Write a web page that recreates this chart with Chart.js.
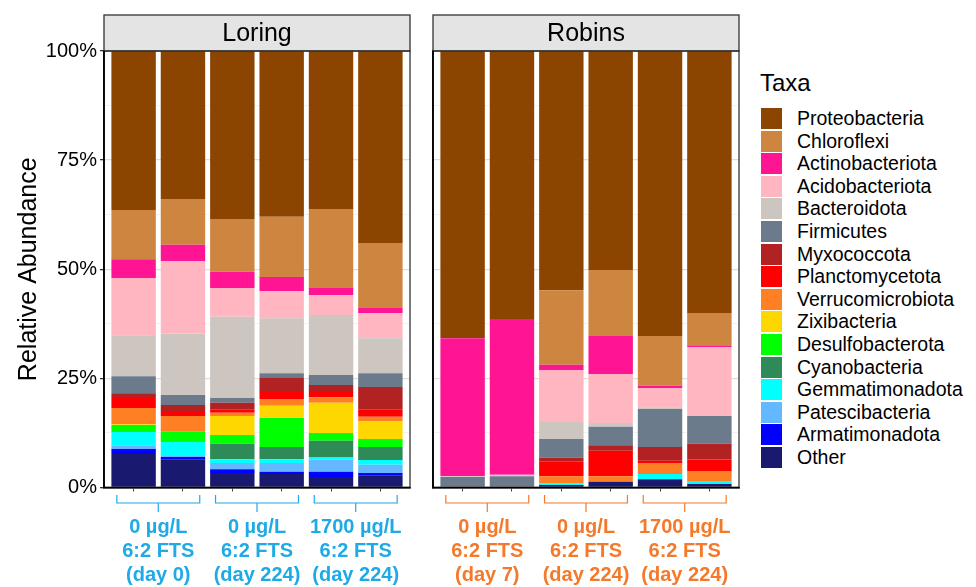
<!DOCTYPE html>
<html>
<head>
<meta charset="utf-8">
<script src="https://cdn.jsdelivr.net/npm/chart.js@4.4.1/dist/chart.umd.min.js"></script>
<style>
  body { margin: 0; background: #fff; font-family: 'Liberation Sans', Arial, sans-serif; }
  #wrap { position: relative; width: 976px; height: 587px; overflow: hidden; }
  canvas { position: absolute; top: 0; }
  #legend { position: absolute; left: 760px; top: 0; }
  .legTitle { position: absolute; left: 0; top: 71px; font-size: 24px; line-height: 24px; white-space: nowrap; }
  .legRow { position: absolute; left: 1px; height: 21px; display: flex; align-items: center; white-space: nowrap; }
  .legKey { width: 21px; height: 21px; margin-right: 15px; }
  .legText { font-size: 19.5px; color: #000; }
</style>
</head>
<body>
<div id="wrap">
  <canvas id="loring" width="420" height="587" style="left:0px"></canvas>
  <canvas id="robins" width="326" height="587" style="left:423px"></canvas>
  <div id="legend"></div>
</div>
<script>
// Taxa, top of the stack first (legend order)
const taxa = ['Proteobacteria', 'Chloroflexi', 'Actinobacteriota', 'Acidobacteriota', 'Bacteroidota',
  'Firmicutes', 'Myxococcota', 'Planctomycetota', 'Verrucomicrobiota', 'Zixibacteria',
  'Desulfobacterota', 'Cyanobacteria', 'Gemmatimonadota', 'Patescibacteria', 'Armatimonadota', 'Other'];
const taxaColors = ['#8B4500', '#CD853F', '#FF1493', '#FFB6C1', '#CDC5BF',
  '#6C7B8B', '#B22222', '#FF0000', '#FF7F24', '#FFD700',
  '#00FF00', '#2E8B57', '#00FFFF', '#63B8FF', '#0000FF', '#191970'];

// Relative abundance (%) per taxon, six samples per site
const loringProteobacteria    = [36.4, 33.9, 38.5, 38.0, 36.2, 44.0];
const loringChloroflexi       = [11.3, 10.5, 12.1, 13.8, 18.1, 14.9];
const loringActinobacteriota  = [4.3, 3.7, 3.7, 3.2, 1.6, 1.1];
const loringAcidobacteriota   = [13.1, 16.6, 6.6, 6.2, 4.6, 5.8];
const loringBacteroidota      = [9.4, 14.1, 18.6, 12.6, 13.7, 8.0];
const loringFirmicutes        = [3.9, 2.3, 1.1, 1.1, 2.3, 3.2];
const loringMyxococcota       = [1.1, 1.4, 1.5, 3.0, 1.6, 5.2];
const loringPlanctomycetota   = [2.3, 1.1, 0.8, 1.8, 1.2, 1.6];
const loringVerrucomicrobiota = [3.7, 3.6, 0.7, 1.6, 1.3, 1.0];
const loringZixibacteria      = [0.2, 0.0, 4.4, 2.8, 6.9, 4.1];
const loringDesulfobacterota  = [1.6, 2.4, 2.0, 6.6, 1.8, 1.8];
const loringCyanobacteria     = [0.0, 0.0, 3.5, 2.8, 3.7, 3.0];
const loringGemmatimonadota   = [3.0, 3.2, 0.9, 0.9, 0.6, 1.1];
const loringPatescibacteria   = [0.9, 0.2, 1.4, 2.0, 2.8, 1.9];
const loringArmatimonadota    = [1.1, 0.5, 0.9, 0.5, 1.2, 0.6];
const loringOther             = [7.7, 6.5, 3.3, 3.1, 2.4, 2.7];

const robinsProteobacteria    = [65.8, 61.4, 54.8, 50.2, 65.3, 60.0];
const robinsChloroflexi       = [0.0, 0.0, 17.1, 15.1, 11.4, 7.6];
const robinsActinobacteriota  = [31.6, 35.7, 1.2, 8.7, 0.5, 0.2];
const robinsAcidobacteriota   = [0.0, 0.3, 11.9, 11.2, 4.4, 15.8];
const robinsBacteroidota      = [0.2, 0.0, 3.9, 0.9, 0.4, 0.0];
const robinsFirmicutes        = [2.4, 2.6, 4.3, 4.2, 8.7, 6.4];
const robinsMyxococcota       = [0.0, 0.0, 0.9, 1.3, 3.2, 3.6];
const robinsPlanctomycetota   = [0.0, 0.0, 3.3, 5.8, 0.5, 2.6];
const robinsVerrucomicrobiota = [0.0, 0.0, 1.7, 1.3, 2.5, 2.5];
const robinsZixibacteria      = [0.0, 0.0, 0.0, 0.0, 0.0, 0.0];
const robinsDesulfobacterota  = [0.0, 0.0, 0.0, 0.0, 0.0, 0.0];
const robinsCyanobacteria     = [0.0, 0.0, 0.0, 0.0, 0.0, 0.0];
const robinsGemmatimonadota   = [0.0, 0.0, 0.3, 0.0, 1.2, 0.5];
const robinsPatescibacteria   = [0.0, 0.0, 0.0, 0.0, 0.0, 0.0];
const robinsArmatimonadota    = [0.0, 0.0, 0.0, 0.0, 0.0, 0.0];
const robinsOther             = [0.0, 0.0, 0.6, 1.3, 1.9, 0.8];

// Treatment groups under each panel (two samples per group)
const loringGroups = [['0 µg/L', '6:2 FTS', '(day 0)'], ['0 µg/L', '6:2 FTS', '(day 224)'], ['1700 µg/L', '6:2 FTS', '(day 224)']];
const robinsGroups = [['0 µg/L', '6:2 FTS', '(day 7)'], ['0 µg/L', '6:2 FTS', '(day 224)'], ['1700 µg/L', '6:2 FTS', '(day 224)']];
const yTicks = [0, 12.5, 25, 37.5, 50, 62.5, 75, 87.5, 100];

const loringData = [loringProteobacteria, loringChloroflexi, loringActinobacteriota, loringAcidobacteriota,
  loringBacteroidota, loringFirmicutes, loringMyxococcota, loringPlanctomycetota, loringVerrucomicrobiota,
  loringZixibacteria, loringDesulfobacterota, loringCyanobacteria, loringGemmatimonadota,
  loringPatescibacteria, loringArmatimonadota, loringOther];
const robinsData = [robinsProteobacteria, robinsChloroflexi, robinsActinobacteriota, robinsAcidobacteriota,
  robinsBacteroidota, robinsFirmicutes, robinsMyxococcota, robinsPlanctomycetota, robinsVerrucomicrobiota,
  robinsZixibacteria, robinsDesulfobacterota, robinsCyanobacteria, robinsGemmatimonadota,
  robinsPatescibacteria, robinsArmatimonadota, robinsOther];

const FONT = "'Liberation Sans', Arial, sans-serif";
Chart.defaults.font.family = FONT;
Chart.defaults.color = '#000';

// stack order: Other at the bottom, Proteobacteria on top
function makeDatasets(rows) {
  const sets = [];
  for (let i = taxa.length - 1; i >= 0; i--) {
    sets.push({
      label: taxa[i],
      data: rows[i].map((v, j) => ({ x: j + 1, y: v })),
      backgroundColor: taxaColors[i],
      borderWidth: 0,
      barPercentage: 0.9,
      categoryPercentage: 1.0
    });
  }
  return sets;
}

function isMajor(v) { return v % 25 === 0; }

// strip header, panel frame and group brackets
function panelPlugin(title, groups, color) {
  return {
    id: 'panel_' + title,
    afterDraw(chart) {
      const ctx = chart.ctx;
      const a = chart.chartArea;
      const xs = chart.scales.x;
      ctx.save();
      // strip
      ctx.fillStyle = '#e4e4e4';
      ctx.fillRect(a.left, 15, a.right - a.left, 36);
      ctx.strokeStyle = '#333';
      ctx.lineWidth = 1.3;
      ctx.strokeRect(a.left, 15, a.right - a.left, 36);
      ctx.fillStyle = '#000';
      ctx.font = '25px ' + FONT;
      ctx.textAlign = 'center';
      ctx.textBaseline = 'middle';
      ctx.fillText(title, (a.left + a.right) / 2, 34);
      // panel frame
      ctx.strokeStyle = '#333';
      ctx.lineWidth = 1.3;
      ctx.strokeRect(a.left, a.top, a.right - a.left, a.bottom - a.top);
      ctx.strokeStyle = '#000';
      ctx.lineWidth = 1.6;
      ctx.beginPath();
      ctx.moveTo(a.left, a.top);
      ctx.lineTo(a.left, a.bottom);
      ctx.lineTo(a.right, a.bottom);
      ctx.stroke();
      // brackets + labels
      groups.forEach((lines, g) => {
        const c = xs.getPixelForValue(2 * g + 1.5);
        const l = xs.getPixelForValue(2 * g + 1.5 - 0.84);
        const r = xs.getPixelForValue(2 * g + 1.5 + 0.84);
        ctx.strokeStyle = color;
        ctx.lineWidth = 1.2;
        ctx.beginPath();
        ctx.moveTo(l, 495); ctx.lineTo(l, 503); ctx.lineTo(r, 503); ctx.lineTo(r, 495);
        ctx.moveTo(c, 503); ctx.lineTo(c, 512);
        ctx.stroke();
        ctx.fillStyle = color;
        ctx.font = 'bold 20px ' + FONT;
        lines.forEach((t, k) => ctx.fillText(t, c, 527 + k * 24));
      });
      ctx.restore();
    }
  };
}

function makeChart(id, rows, title, groups, color, showY) {
  return new Chart(document.getElementById(id), {
    type: 'bar',
    data: { datasets: makeDatasets(rows) },
    options: {
      responsive: false,
      animation: false,
      devicePixelRatio: 1,
      layout: { padding: { left: showY ? 10 : 0, top: 51, right: 10, bottom: 0 } },
      plugins: { legend: { display: false }, tooltip: { enabled: false } },
      scales: {
        x: {
          type: 'linear', min: 0.4, max: 6.6, stacked: true, offset: false,
          afterBuildTicks: s => { s.ticks = [1, 2, 3, 4, 5, 6].map(v => ({ value: v })); },
          afterFit: s => { s.height = 99.5; },
          ticks: { display: false },
          grid: { offset: false, drawOnChartArea: false, drawTicks: true, tickLength: 4, tickColor: '#444', lineWidth: 1 },
          border: { color: '#000', width: 1.6 }
        },
        y: {
          type: 'linear', min: 0, max: 100, stacked: true,
          afterBuildTicks: s => { s.ticks = yTicks.map(v => ({ value: v })); },
          afterFit: s => { s.width = showY ? 94 : 10; },
          ticks: {
            display: showY,
            padding: 3,
            font: { size: 20 },
            color: '#000',
            callback: v => isMajor(v) ? v + '%' : ''
          },
          grid: {
            color: c => c.tick && isMajor(c.tick.value) ? '#dedede' : '#ececec',
            lineWidth: c => c.tick && isMajor(c.tick.value) ? 1.3 : 0.7,
            drawTicks: showY,
            tickLength: 4,
            tickColor: c => c.tick && isMajor(c.tick.value) ? '#333' : 'rgba(0,0,0,0)'
          },
          border: { color: '#000', width: 1.6 },
          title: { display: showY, text: 'Relative Abundance', font: { size: 25 }, color: '#000' }
        }
      }
    },
    plugins: [panelPlugin(title, groups, color)]
  });
}

makeChart('loring', loringData, 'Loring', loringGroups, '#1eaae6', true);
makeChart('robins', robinsData, 'Robins', robinsGroups, '#f5792a', false);

// legend on the right
const legend = document.getElementById('legend');
const head = document.createElement('div');
head.className = 'legTitle';
head.textContent = 'Taxa';
legend.appendChild(head);
taxa.forEach((name, i) => {
  const row = document.createElement('div');
  row.className = 'legRow';
  row.style.top = (108 + i * 22.6) + 'px';
  row.innerHTML = '<div class="legKey" style="background:' + taxaColors[i] + '"></div><span class="legText">' + name + '</span>';
  legend.appendChild(row);
});
</script>
</body>
</html>
